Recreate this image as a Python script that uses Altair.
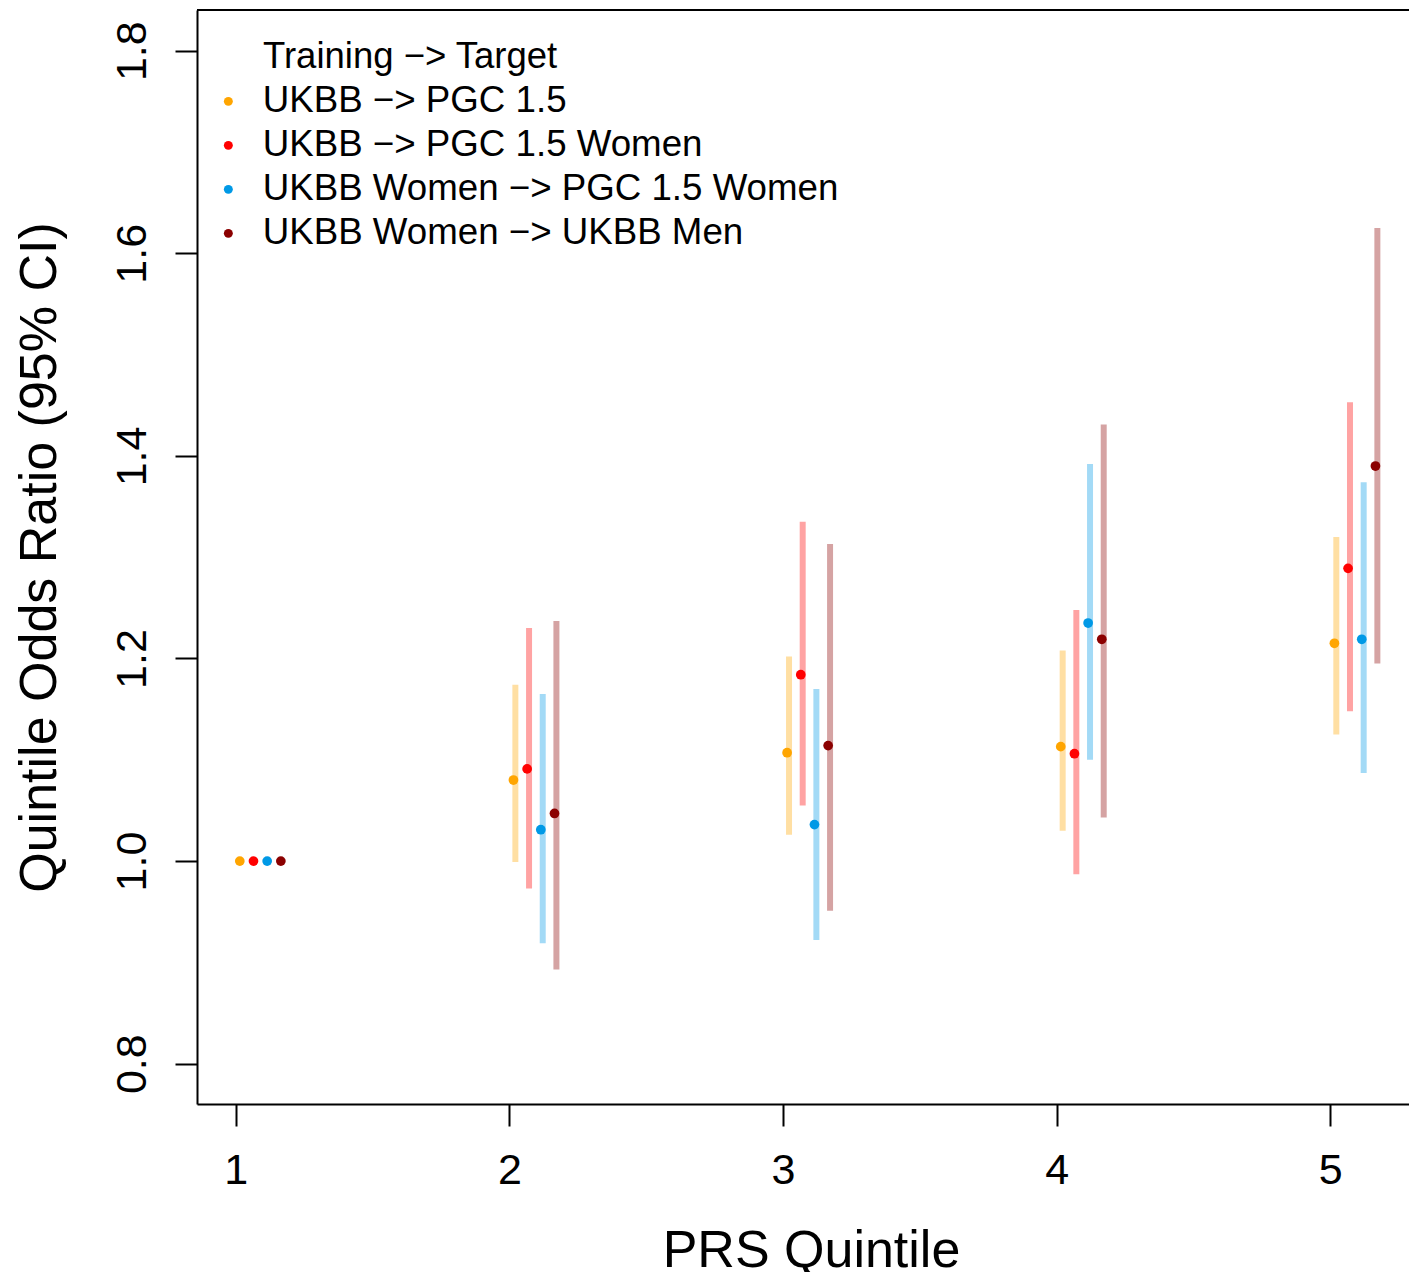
import altair as alt
import pandas as pd

FONT = "Liberation Sans"

quintiles = [1, 2, 3, 4, 5]
series = [
    "UKBB −> PGC 1.5",
    "UKBB −> PGC 1.5 Women",
    "UKBB Women −> PGC 1.5 Women",
    "UKBB Women −> UKBB Men",
]
point_colors = ["#FFA500", "#FF0000", "#0099E6", "#8B0000"]
legend_title = "Training −> Target"

or_orange = [1.0, 1.080, 1.107, 1.113, 1.215]
or_red = [1.0, 1.091, 1.184, 1.106, 1.289]
or_blue = [1.0, 1.031, 1.036, 1.235, 1.219]
or_darkred = [1.0, 1.047, 1.114, 1.219, 1.390]

lo_orange = [None, 0.999, 1.026, 1.030, 1.125]
lo_red = [None, 0.973, 1.055, 0.987, 1.148]
lo_blue = [None, 0.919, 0.922, 1.100, 1.087]
lo_darkred = [None, 0.893, 0.951, 1.043, 1.195]

hi_orange = [None, 1.174, 1.202, 1.208, 1.320]
hi_red = [None, 1.230, 1.335, 1.248, 1.453]
hi_blue = [None, 1.165, 1.170, 1.392, 1.374]
hi_darkred = [None, 1.237, 1.313, 1.431, 1.625]

ors = [or_orange, or_red, or_blue, or_darkred]
los = [lo_orange, lo_red, lo_blue, lo_darkred]
his = [hi_orange, hi_red, hi_blue, hi_darkred]

rows = []
for i, s in enumerate(series):
    for j, q in enumerate(quintiles):
        rows.append({
            "series": s,
            "order": i,
            "xpt": q + 0.015 + 0.05 * i,
            "xbar": q + 0.022 + 0.05 * i,
            "or": ors[i][j],
            "lo": los[i][j],
            "hi": his[i][j],
        })
df = pd.DataFrame(rows)
df_ci = df.dropna(subset=["lo", "hi"])

W, H = 1212, 1094
x_scale = alt.Scale(domain=[0.8586, 0.8586 + W / 273.65], nice=False, zero=False)
y_scale = alt.Scale(domain=[0.7602, 1.8402], nice=False, zero=False)
color_scale = alt.Scale(domain=series, range=point_colors)

x_axis = alt.Axis(
    values=quintiles, format="d", title="PRS Quintile", grid=False,
    domain=True, domainColor="black", domainWidth=2,
    ticks=True, tickSize=22, tickWidth=2, tickColor="black",
    labelFont=FONT, labelFontSize=43, labelColor="black",
    labelPadding=57, labelBaseline="alphabetic", labelFlush=False,
    titleFont=FONT, titleFontSize=52, titleFontWeight="normal", titleColor="black",
    titleX=614, titleY=162, titleBaseline="alphabetic", titleAlign="center",
)
y_axis = alt.Axis(
    values=[0.8, 1.0, 1.2, 1.4, 1.6, 1.8], format=".1f",
    title="Quintile Odds Ratio (95% CI)", grid=False,
    domain=True, domainColor="black", domainWidth=2,
    ticks=True, tickSize=22, tickWidth=2, tickColor="black",
    labelFont=FONT, labelFontSize=43, labelColor="black",
    labelAngle=270, labelAlign="center", labelBaseline="alphabetic",
    labelPadding=30, labelFlush=False,
    titleFont=FONT, titleFontSize=52, titleFontWeight="normal", titleColor="black",
    titleAngle=270, titleX=-142, titleY=H / 2, titleBaseline="alphabetic",
    titleAlign="center",
)

legend = alt.Legend(
    orient="none", legendX=13, legendY=73, title=None,
    symbolType="circle", symbolSize=80, symbolStrokeWidth=0, symbolOpacity=1,
    labelFont=FONT, labelFontSize=36.7, labelColor="black",
    labelOffset=16, rowPadding=6, padding=0, labelLimit=1000,
)

bars = alt.Chart(df_ci).mark_rule(strokeWidth=6, opacity=0.36, strokeCap="butt").encode(
    x=alt.X("xbar:Q", scale=x_scale, axis=x_axis),
    y=alt.Y("lo:Q", scale=y_scale, axis=y_axis),
    y2="hi:Q",
    color=alt.Color("series:N", scale=color_scale, legend=legend),
)

points = alt.Chart(df).mark_circle(size=95, opacity=1).encode(
    x=alt.X("xpt:Q", scale=x_scale),
    y=alt.Y("or:Q", scale=y_scale),
    color=alt.Color("series:N", scale=color_scale, legend=legend),
    order="order:Q",
)

title_df = pd.DataFrame({"t": [legend_title]})
legend_head = alt.Chart(title_df).mark_text(
    font=FONT, fontSize=36.5, color="black", align="left", baseline="middle"
).encode(x=alt.value(66), y=alt.value(47), text="t:N")

top_border = alt.Chart(title_df).mark_rule(color="black", strokeWidth=2).encode(
    x=alt.value(0), x2=alt.value(W), y=alt.value(0)
)

chart = alt.layer(bars, points, legend_head, top_border).properties(
    width=W, height=H,
    autosize=alt.AutoSizeParams(type="none"),
    padding={"left": 189, "top": 2, "right": 0, "bottom": 168},
    background="white",
).configure_view(stroke=None)

chart.save("out.html", embed_options={"renderer": "svg", "actions": False})
